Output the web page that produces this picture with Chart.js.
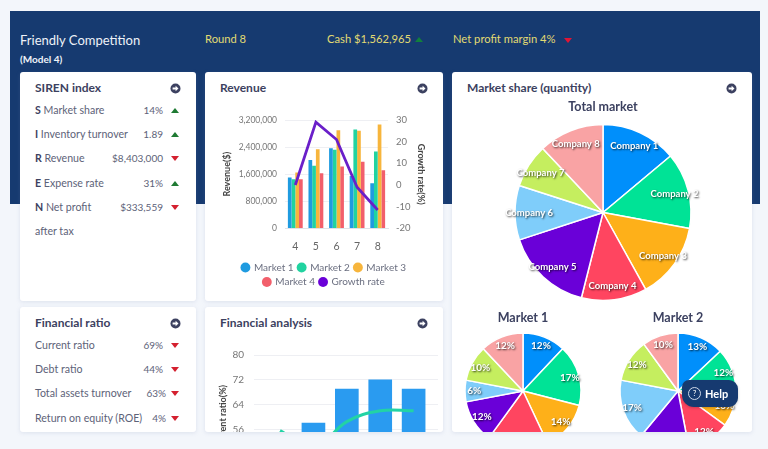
<!DOCTYPE html>
<html><head><meta charset="utf-8">
<script src="https://cdn.jsdelivr.net/npm/chart.js@4"></script>
<style>
html,body{margin:0;padding:0;width:768px;height:449px;overflow:hidden;background:#f3f6fb;font-family:Lato,sans-serif;}
#hdr{position:absolute;left:10px;top:11px;width:750px;height:193px;background:#163a70;}
.t{position:absolute;white-space:nowrap;line-height:1;}
.y{color:#e2da72;font-size:11.2px;}
.card{position:absolute;background:#fff;border-radius:3px;box-shadow:0 1px 4px rgba(120,140,180,.18);overflow:hidden;}
.ct{position:absolute;left:15px;top:9px;font-size:12px;font-weight:700;color:#3c4160;white-space:nowrap;line-height:14px;}
.ic{position:absolute;width:11px;height:11px;}
.row{position:absolute;left:15px;width:150px;height:14px;font-size:10.6px;line-height:14px;color:#5d6278;white-space:nowrap;}
.row b{color:#3c4160;}
.row.val{font-size:10px;}
.up,.dn{position:absolute;width:0;height:0;border-left:4px solid transparent;border-right:4px solid transparent;}
.up{border-bottom:5px solid #1f7a33;}
.dn{border-top:5px solid #d4202f;}
canvas{position:absolute;display:block;}
#help{position:absolute;left:682px;top:380px;width:56px;height:27px;background:#163a70;border-radius:7px 9px 9px 12px;color:#fff;font-size:11px;font-weight:700;line-height:27px;box-shadow:0 1px 3px rgba(0,0,0,.2);}
#help span.q{position:absolute;left:6px;top:7px;width:11px;height:11px;border:1px solid #cfd8e8;border-radius:50%;font-size:8px;line-height:11px;text-align:center;font-weight:400;}
#help span.l{position:absolute;left:23px;top:0;}
</style></head><body>
<div id="hdr"></div>
<div class="t" style="left:20px;top:34px;color:#eef2f8;font-size:13px;">Friendly Competition</div>
<div class="t" style="left:20px;top:54px;color:#eef2f8;font-size:10px;font-weight:700;">(Model 4)</div>
<div class="t y" style="left:205px;top:33px;">Round 8</div>
<div class="t y" style="left:327px;top:33px;">Cash $1,562,965</div>
<div class="up" style="left:415px;top:37px;border-bottom-color:#12803c;"></div>
<div class="t y" style="left:453px;top:33px;">Net profit margin 4%</div>
<div class="dn" style="left:564px;top:38px;border-top-color:#e01535;"></div>

<div class="card" id="siren" style="left:20px;top:72px;width:176px;height:229px;"><div class="ct">SIREN index</div></div>
<div class="card" id="ratio" style="left:20px;top:307px;width:176px;height:125px;"><div class="ct">Financial ratio</div></div>
<div class="card" id="rev" style="left:205px;top:72px;width:238px;height:229px;"><div class="ct">Revenue</div>
  <canvas id="cRev" width="204" height="195" style="left:17px;top:32px;"></canvas></div>
<div class="card" id="fin" style="left:205px;top:307px;width:238px;height:125px;"><div class="ct">Financial analysis</div>
  <canvas id="cFin" width="229" height="156" style="left:9px;top:32px;"></canvas></div>
<div class="card" id="share" style="left:452px;top:72px;width:300px;height:360px;"><div class="ct">Market share (quantity)</div>
  <canvas id="cTotal" width="300" height="212" style="left:1px;top:25px;"></canvas>
  <canvas id="cM1" width="140" height="147" style="left:1px;top:236px;"></canvas>
  <canvas id="cM2" width="140" height="147" style="left:156px;top:236px;"></canvas></div>
<div id="help"><span class="q">?</span><span class="l">Help</span></div>

<script>
// ---------- data ----------
const rounds = [4, 5, 6, 7, 8];
const market1Rev = [1500000, 2020000, 2365000, 1550000, 1330000];
const market2Rev = [1450000, 1850000, 2320000, 2920000, 2270000];
const market3Rev = [1650000, 2340000, 2900000, 2880000, 3070000];
const market4Rev = [1450000, 1630000, 1830000, 1970000, 1720000];
const growthRate = [0, 29, 21, -1, -11.5];
const revTitle = 'Revenue($)';
const growthTitle = 'Growth rate(%)';
const currentRatioBars = [50, 58, 69, 72, 69];
const currentRatioLine = [55.6, 50, 58.5, 62, 62];
const companies = ['Company 1','Company 2','Company 3','Company 4','Company 5','Company 6','Company 7','Company 8'];
const totalShare = [13.9, 14, 14, 12, 16, 10, 8, 12];
const market1Share = [12, 17, 14, 17, 12, 6, 10, 12];
const market2Share = [13, 12, 10, 12, 14, 17, 12, 10];
const pieColors = ['#008ffb','#00e396','#feb019','#ff4560','#6a00d8','#7fcdfa','#c5ee5f','#f9a3a4'];
const sirenRows = [
  ['S','Market share','14%','up'],
  ['I','Inventory turnover','1.89','up'],
  ['R','Revenue','$8,403,000','dn'],
  ['E','Expense rate','31%','up'],
  ['N','Net profit','$333,559','dn'],
  ['','after tax','','']
];
const ratioRows = [
  ['Current ratio','69%','dn',163],
  ['Debt ratio','44%','dn',163],
  ['Total assets turnover','63%','dn',166],
  ['Return on equity (ROE)','4%','dn',166]
];

// ---------- html lists ----------
const sirenY = [31, 55, 79, 104, 128, 152];
const sirenCard = document.getElementById('siren');
sirenRows.forEach((r, i) => {
  const d = document.createElement('div'); d.className = 'row'; d.style.top = sirenY[i] + 'px';
  d.innerHTML = (r[0] ? '<b>' + r[0] + '</b> ' : '') + r[1];
  sirenCard.appendChild(d);
  if (r[2]) {
    const v = document.createElement('div'); v.className = 'row val';
    v.style.cssText = 'top:' + sirenY[i] + 'px;left:auto;right:33px;width:auto;'; v.textContent = r[2];
    sirenCard.appendChild(v);
    const a = document.createElement('div'); a.className = r[3];
    a.style.left = '151px'; a.style.top = (sirenY[i] + 5) + 'px';
    sirenCard.appendChild(a);
  }
});
const ratioY = [31, 55, 79, 104];
const ratioCard = document.getElementById('ratio');
ratioRows.forEach((r, i) => {
  const d = document.createElement('div'); d.className = 'row'; d.style.top = ratioY[i] + 'px'; d.textContent = r[0];
  ratioCard.appendChild(d);
  const v = document.createElement('div'); v.className = 'row val';
  v.style.cssText = 'top:' + ratioY[i] + 'px;left:auto;right:' + (196 - r[3]) + 'px;width:auto;'; v.textContent = r[1];
  ratioCard.appendChild(v);
  const a = document.createElement('div'); a.className = r[2];
  a.style.left = '151px'; a.style.top = (ratioY[i] + 5) + 'px';
  ratioCard.appendChild(a);
});
document.querySelectorAll('.card').forEach(c => {
  const ns = 'http://www.w3.org/2000/svg';
  const s = document.createElementNS(ns, 'svg');
  s.setAttribute('class', 'ic'); s.setAttribute('viewBox', '0 0 11 11');
  s.style.left = (c.id === 'share' ? 274 : c.id === 'rev' || c.id === 'fin' ? 212 : 150) + 'px';
  s.style.top = '11px';
  s.innerHTML = '<circle cx="5.5" cy="5.5" r="5" fill="#3c4160"/><path d="M2.6 4.6h3V2.8l2.9 2.7-2.9 2.7V6.4h-3z" fill="#fff"/>';
  c.appendChild(s);
});

// ---------- charts ----------
Chart.defaults.font.family = 'Lato, sans-serif';
Chart.defaults.animation = false;
Chart.defaults.responsive = false;
Chart.defaults.color = '#6b6f80';

const sliceLabels = {
  id: 'sliceLabels',
  afterDatasetsDraw(chart, args, opts) {
    if (!opts.fmt) return;
    const ctx = chart.ctx, meta = chart.getDatasetMeta(0);
    ctx.save();
    ctx.font = 'bold ' + opts.size + 'px Lato, sans-serif';
    ctx.textAlign = 'center'; ctx.textBaseline = 'middle';
    ctx.fillStyle = '#fff';
    ctx.shadowColor = 'rgba(0,0,0,.75)'; ctx.shadowBlur = 2; ctx.shadowOffsetX = 1; ctx.shadowOffsetY = 1;
    meta.data.forEach((arc, i) => {
      const p = arc.getProps(['x','y','startAngle','endAngle','outerRadius'], true);
      const a = (p.startAngle + p.endAngle) / 2, r = p.outerRadius * 0.84;
      ctx.fillText(opts.fmt(i, chart.data.datasets[0].data[i]), p.x + Math.cos(a) * r, p.y + Math.sin(a) * r);
    });
    ctx.restore();
  }
};

function pie(id, title, values, radius, labelFmt, size) {
  new Chart(document.getElementById(id), {
    type: 'pie', plugins: [sliceLabels],
    data: { labels: companies, datasets: [{ data: values, backgroundColor: pieColors, borderColor: '#fff', borderWidth: 1.5, radius: radius }] },
    options: {
      plugins: {
        legend: { display: false }, tooltip: { enabled: false },
        title: { display: true, text: title, color: '#3c4160', font: { size: 12.5, weight: 'bold' }, padding: { top: 2, bottom: 2 } },
        sliceLabels: { fmt: labelFmt, size: size }
      }
    }
  });
}
pie('cTotal', 'Total market', totalShare, 88, i => companies[i], 9.5);
pie('cM1', 'Market 1', market1Share, 58, (i, v) => v + '%', 10);
pie('cM2', 'Market 2', market2Share, 58, (i, v) => v + '%', 10);

const fixW = w => s => { s.width = w; };
new Chart(document.getElementById('cRev'), {
  data: {
    labels: rounds,
    datasets: [
      { type: 'line', label: 'Growth rate', data: growthRate, yAxisID: 'y2', borderColor: '#6a1fc9', backgroundColor: '#6a00d8', borderWidth: 2.8, pointRadius: 0, tension: 0, order: 0 },
      { type: 'bar', label: 'Market 1', data: market1Rev, backgroundColor: '#1f9be0', order: 1 },
      { type: 'bar', label: 'Market 2', data: market2Rev, backgroundColor: '#21d3a0', order: 1 },
      { type: 'bar', label: 'Market 3', data: market3Rev, backgroundColor: '#f7b53c', order: 1 },
      { type: 'bar', label: 'Market 4', data: market4Rev, backgroundColor: '#f25f6b', order: 1 }
    ]
  },
  options: {
    layout: { padding: { top: 16, bottom: 2 } },
    datasets: { bar: { categoryPercentage: 0.72, barPercentage: 1 } },
    plugins: {
      tooltip: { enabled: false },
      legend: { position: 'bottom',
        labels: { usePointStyle: true, pointStyle: 'circle', boxWidth: 7, boxHeight: 7, padding: 4.5, font: { size: 10 }, color: '#6b6f80',
          generateLabels: c => Chart.defaults.plugins.legend.labels.generateLabels(c).map(l => ({ ...l, lineWidth: 0, strokeStyle: 'transparent' })),
          sort: (a, b) => ((a.text === 'Growth rate') - (b.text === 'Growth rate')) } }
    },
    scales: {
      x: { afterFit: s => { s.height -= 3; }, grid: { display: false, drawTicks: true, tickLength: 4 }, border: { color: '#dfe2e8' }, ticks: { font: { size: 10.5 }, padding: 8, color: '#666' } },
      y: { position: 'left', min: 0, max: 3200000, afterFit: fixW(63),
        ticks: { stepSize: 800000, font: { size: 8.5 }, padding: 8, callback: v => v.toLocaleString('en-US'), color: '#777' },
        grid: { color: '#eeeff3', drawTicks: false }, border: { display: false },
        title: { display: true, text: revTitle, font: { size: 9, weight: 'bold' }, color: '#444', padding: 0 } },
      y2: { position: 'right', min: -20, max: 30, afterFit: fixW(38),
        ticks: { stepSize: 10, font: { size: 9.5 }, padding: 8, color: '#777' },
        grid: { display: false, drawTicks: false }, border: { display: false },
        title: { display: true, text: growthTitle, font: { size: 9, weight: 'bold' }, color: '#444', padding: 0 } }
    }
  }
});

new Chart(document.getElementById('cFin'), {
  data: {
    datasets: [
      { type: 'line', data: rounds.map((x, i) => ({ x: x, y: currentRatioLine[i] })), borderColor: '#22d3a5', borderWidth: 3, pointRadius: 0, tension: 0.4, order: 0 },
      { type: 'bar', data: rounds.map((x, i) => ({ x: x, y: currentRatioBars[i] })), backgroundColor: '#2a9bf0', barThickness: 23, order: 1 }
    ]
  },
  options: {
    layout: { padding: { top: 5, bottom: 2, right: 5 } },
    plugins: { legend: { display: false }, tooltip: { enabled: false } },
    scales: {
      x: { type: 'linear', display: false, offset: false, min: 3.22, max: 8.73 },
      y: { min: 40, max: 80, afterFit: fixW(40),
        ticks: { stepSize: 8, font: { size: 10 }, padding: 10, color: '#777' },
        grid: { color: '#eeeff3', drawTicks: false }, border: { display: false },
        title: { display: true, text: 'Current ratio(%)', font: { size: 9, weight: 'bold' }, color: '#444', padding: 4 } }
    }
  }
});
</script>
</body></html>
